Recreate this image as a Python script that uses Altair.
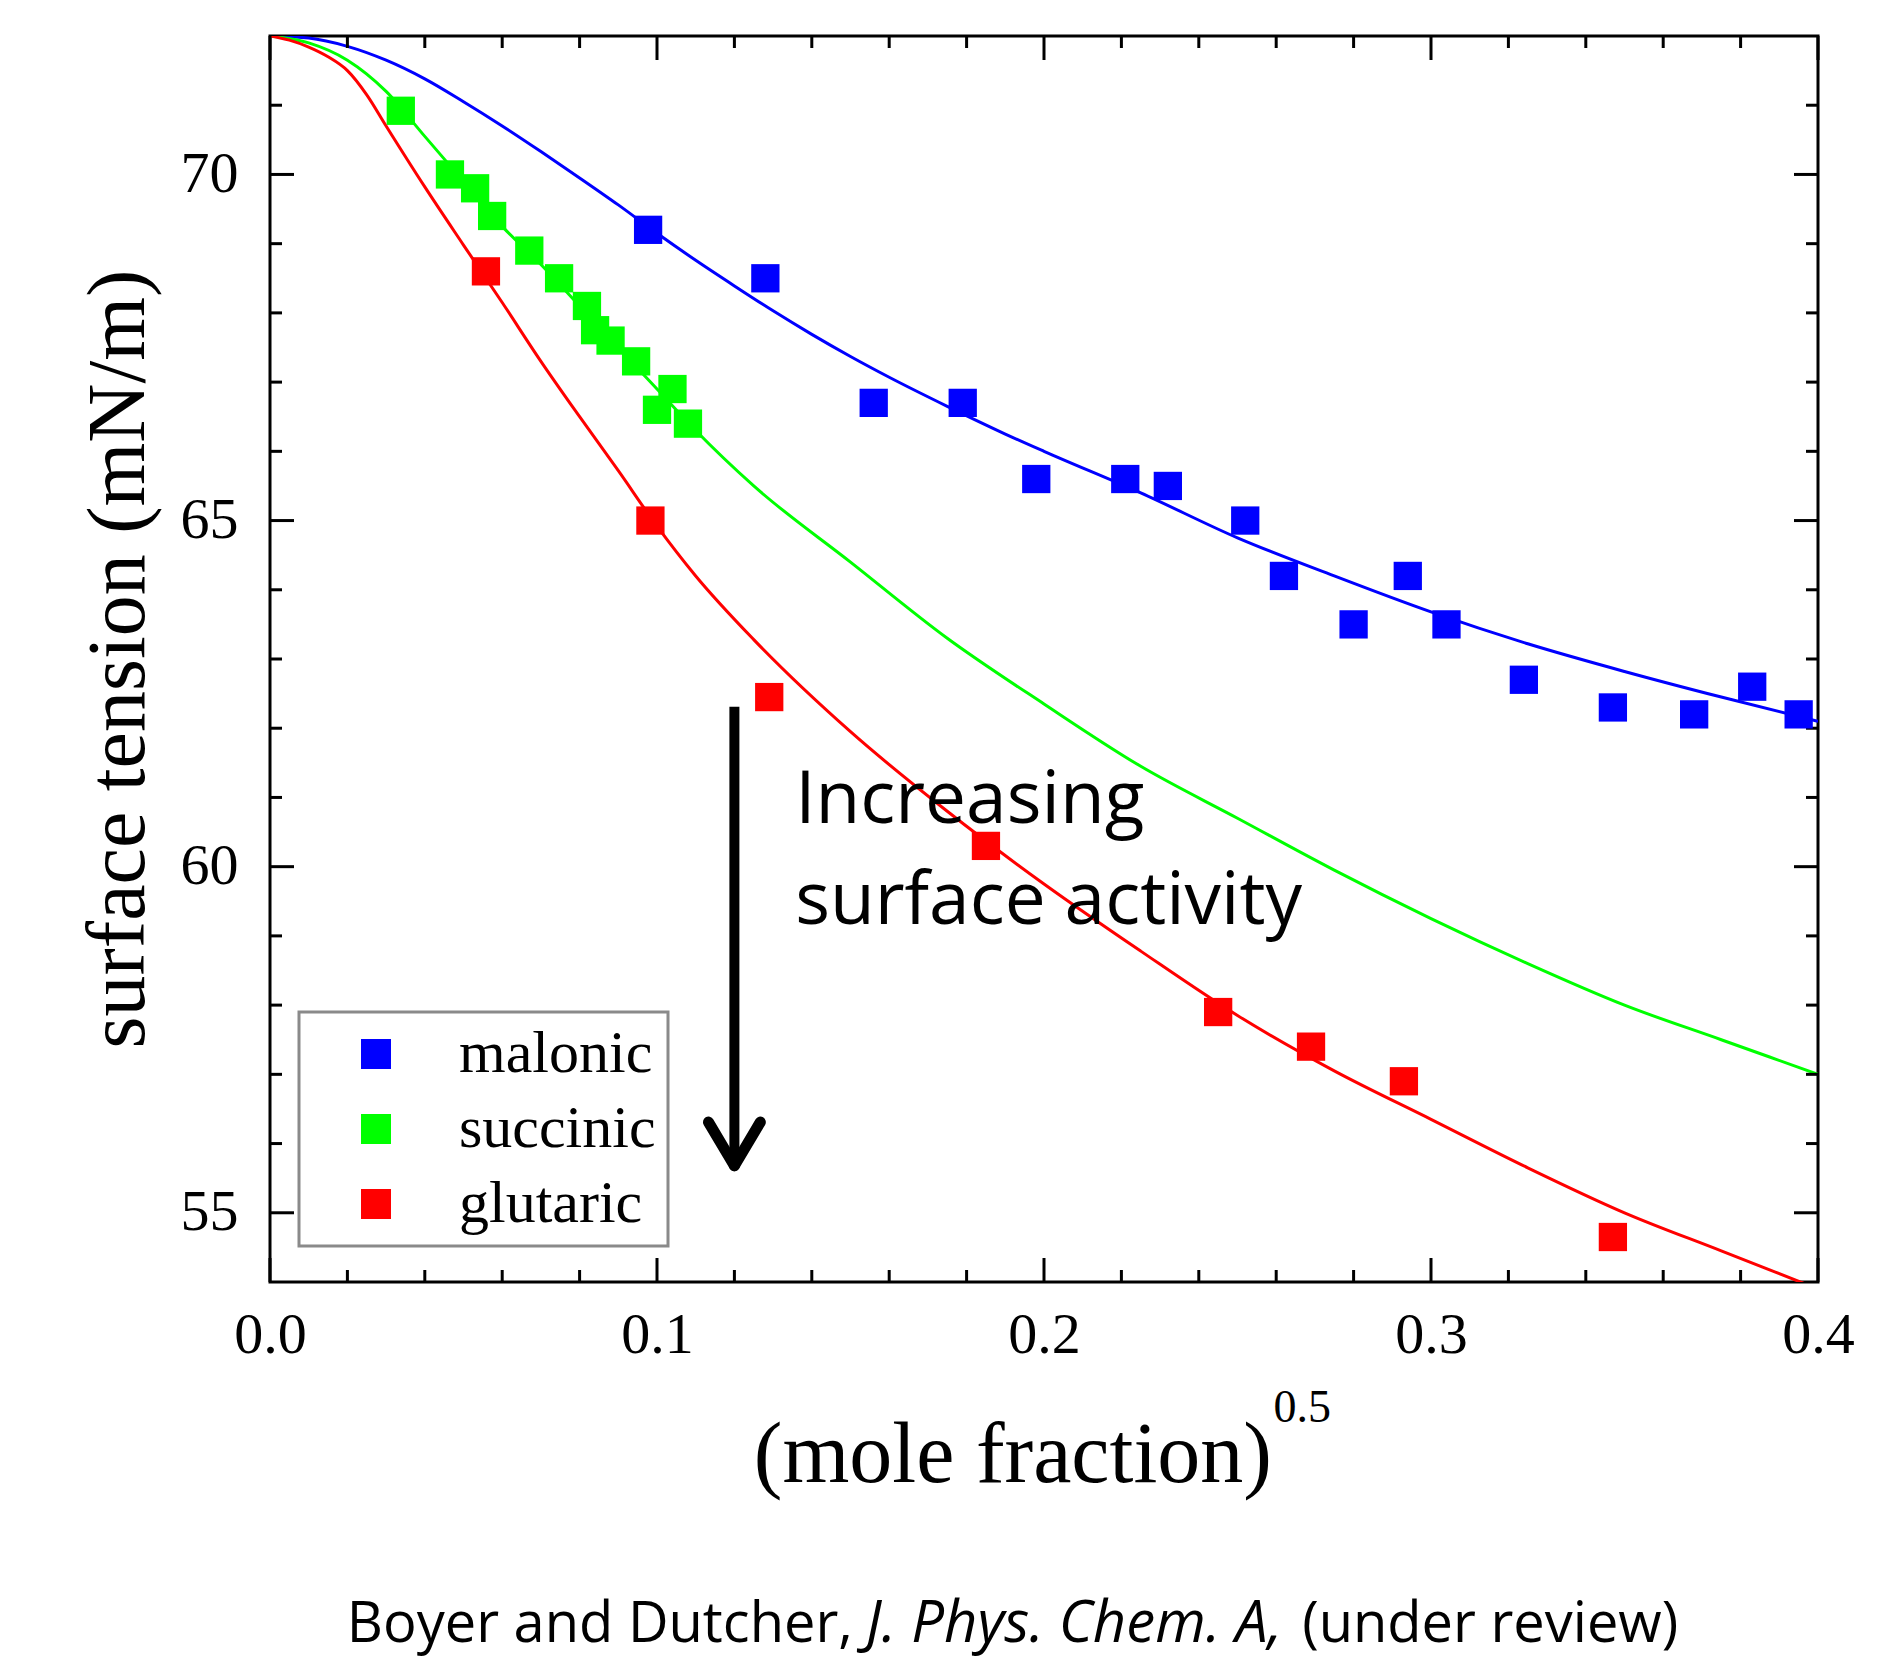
import altair as alt
import pandas as pd

# ---------------- data ----------------
acids = ["malonic", "succinic", "glutaric"]
acid_colors = ["#0000ff", "#00ff00", "#ff0000"]

mal_x = [0.0977, 0.128, 0.156, 0.179, 0.198, 0.221, 0.232, 0.252, 0.262, 0.280,
         0.294, 0.304, 0.324, 0.347, 0.368, 0.383, 0.395]
mal_y = [69.2, 68.5, 66.7, 66.7, 65.6, 65.6, 65.5, 65.0, 64.2, 63.5,
         64.2, 63.5, 62.7, 62.3, 62.2, 62.6, 62.2]

suc_x = [0.0338, 0.0465, 0.053, 0.0574, 0.067, 0.0747, 0.0819, 0.084, 0.088,
         0.0946, 0.100, 0.104, 0.108]
suc_y = [70.92, 70.0, 69.8, 69.4, 68.9, 68.5, 68.1, 67.75, 67.6,
         67.3, 66.6, 66.9, 66.4]

glu_x = [0.0558, 0.0983, 0.129, 0.185, 0.245, 0.269, 0.293, 0.347]
glu_y = [68.6, 65.0, 62.45, 60.3, 57.9, 57.4, 56.9, 54.65]

mal_fit_x = [0, 0.01, 0.02, 0.03, 0.04, 0.05, 0.06, 0.07, 0.08, 0.09, 0.10, 0.11,
             0.12, 0.13, 0.14, 0.15, 0.16, 0.175, 0.19, 0.2, 0.225, 0.25, 0.275,
             0.3, 0.325, 0.35, 0.375, 0.4]
mal_fit_y = [72.0, 71.97, 71.85, 71.65, 71.38, 71.05, 70.7, 70.33, 69.95, 69.56,
             69.15, 68.76, 68.39, 68.03, 67.69, 67.37, 67.07, 66.65, 66.25, 66.0,
             65.4, 64.75, 64.2, 63.68, 63.22, 62.82, 62.45, 62.1]

suc_fit_x = [0, 0.01, 0.02, 0.03, 0.04, 0.05, 0.06, 0.07, 0.08, 0.09, 0.10, 0.11,
             0.125, 0.15, 0.175, 0.2, 0.225, 0.25, 0.275, 0.3, 0.325, 0.35, 0.375, 0.4]
suc_fit_y = [72.0, 71.9, 71.65, 71.2, 70.55, 69.9, 69.25, 68.7, 68.1, 67.5, 66.9,
             66.3, 65.5, 64.4, 63.3, 62.35, 61.45, 60.7, 59.95, 59.25, 58.6, 58.0,
             57.5, 57.0]

glu_fit_x = [0, 0.005, 0.01, 0.015, 0.02, 0.025, 0.03, 0.04, 0.05, 0.06, 0.07, 0.08,
             0.09, 0.10, 0.11, 0.125, 0.15, 0.175, 0.2, 0.225, 0.25, 0.275, 0.3,
             0.325, 0.35, 0.375, 0.4]
glu_fit_y = [72.0, 71.94, 71.84, 71.7, 71.5, 71.15, 70.7, 69.82, 68.98, 68.15, 67.3,
             66.5, 65.72, 64.92, 64.2, 63.28, 61.95, 60.8, 59.75, 58.78, 57.85,
             57.05, 56.35, 55.65, 55.0, 54.45, 53.9]

x_tick_labels = [0.0, 0.1, 0.2, 0.3, 0.4]
x_minor_ticks = [0.02, 0.04, 0.06, 0.08, 0.12, 0.14, 0.16, 0.18, 0.22, 0.24,
                 0.26, 0.28, 0.32, 0.34, 0.36, 0.38]
y_tick_labels = [55, 60, 65, 70]
y_minor_ticks = [56, 57, 58, 59, 61, 62, 63, 64, 66, 67, 68, 69, 71]

annotation_lines = ["Increasing", "surface activity"]
caption_parts = ["Boyer and Dutcher,", "J. Phys. Chem. A,", "(under review)"]
y_title = "surface tension (mN/m)"
x_title = "(mole fraction)"
x_title_sup = "0.5"

# ---------------- tables ----------------
pts = pd.concat([
    pd.DataFrame({"x": mal_x, "y": mal_y, "acid": acids[0]}),
    pd.DataFrame({"x": suc_x, "y": suc_y, "acid": acids[1]}),
    pd.DataFrame({"x": glu_x, "y": glu_y, "acid": acids[2]}),
])
fit_tables = [
    pd.DataFrame({"x": mal_fit_x, "y": mal_fit_y}),
    pd.DataFrame({"x": suc_fit_x, "y": suc_fit_y}),
    pd.DataFrame({"x": glu_fit_x, "y": glu_fit_y}),
]

W, H = 1548, 1246
SERIF = "Liberation Serif"
SANS = "Open Sans"

xscale = alt.Scale(domain=[0.0, 0.4], nice=False, zero=False)
yscale = alt.Scale(domain=[54, 72], nice=False, zero=False)

xaxis = alt.Axis(values=x_tick_labels, format=".1f", title=None, grid=False,
                 ticks=False, tickSize=0, domain=False, labelFont=SERIF,
                 labelFontSize=58, labelColor="black", labelPadding=24,
                 labelFlush=False, labelOverlap=False, labelBound=False)
yaxis = alt.Axis(values=y_tick_labels, title=None, grid=False, ticks=False,
                 tickSize=0, domain=False, labelFont=SERIF, labelFontSize=58,
                 labelColor="black", labelPadding=32, labelOverlap=False)


def X(f):
    return alt.X(f, type="quantitative", scale=xscale, axis=xaxis)


def Y(f):
    return alt.Y(f, type="quantitative", scale=yscale, axis=yaxis)


line_layers = [
    alt.Chart(tbl).mark_line(strokeWidth=3, clip=True, interpolate="monotone",
                             color=col).encode(x=X("x"), y=Y("y"))
    for tbl, col in zip(fit_tables, acid_colors)
]

points = alt.Chart(pts).mark_square(size=800, opacity=1, filled=True).encode(
    x=X("x"), y=Y("y"),
    color=alt.Color("acid:N", scale=alt.Scale(domain=acids, range=acid_colors),
                    legend=alt.Legend(title=None, orient="none", legendX=29, legendY=976,
                                      symbolType="square", symbolSize=900,
                                      symbolStrokeWidth=0, symbolOffset=35,
                                      labelOffset=53, rowPadding=15, padding=12,
                                      labelFont=SERIF, labelFontSize=60,
                                      labelLimit=600,
                                      labelColor="black", strokeColor="#8a8a8a",
                                      fillColor="white")),
)

# inward ticks on all four sides
xmaj = pd.DataFrame({"v": x_tick_labels})
xmin = pd.DataFrame({"v": x_minor_ticks})
ymaj = pd.DataFrame({"v": y_tick_labels})
ymin = pd.DataFrame({"v": y_minor_ticks})
MAJ, MIN = 24, 12
tick = dict(color="black", strokeWidth=3)
tick_layers = [
    alt.Chart(xmaj).mark_rule(**tick).encode(x=X("v"), y=alt.value(H), y2=alt.value(H - MAJ)),
    alt.Chart(xmin).mark_rule(**tick).encode(x=X("v"), y=alt.value(H), y2=alt.value(H - MIN)),
    alt.Chart(xmaj).mark_rule(**tick).encode(x=X("v"), y=alt.value(0), y2=alt.value(MAJ)),
    alt.Chart(xmin).mark_rule(**tick).encode(x=X("v"), y=alt.value(0), y2=alt.value(MIN)),
    alt.Chart(ymaj).mark_rule(**tick).encode(y=Y("v"), x=alt.value(0), x2=alt.value(MAJ)),
    alt.Chart(ymin).mark_rule(**tick).encode(y=Y("v"), x=alt.value(0), x2=alt.value(MIN)),
    alt.Chart(ymaj).mark_rule(**tick).encode(y=Y("v"), x=alt.value(W), x2=alt.value(W - MAJ)),
    alt.Chart(ymin).mark_rule(**tick).encode(y=Y("v"), x=alt.value(W), x2=alt.value(W - MIN)),
]

# arrow annotation (data coordinates)
shaft = pd.DataFrame({"x": [0.12], "y": [62.31], "x2": [0.12], "y2": [55.78]})
head = pd.DataFrame({"x": [0.1133, 0.1267], "y": [56.31, 56.31],
                     "x2": [0.12, 0.12], "y2": [55.68, 55.68]})
arrow_shaft = alt.Chart(shaft).mark_rule(color="black", strokeWidth=10).encode(
    x=X("x"), y=Y("y"), x2="x2", y2="y2")
arrow_head = alt.Chart(head).mark_rule(color="black", strokeWidth=11, strokeCap="round").encode(
    x=X("x"), y=Y("y"), x2="x2", y2="y2")

ann = pd.DataFrame({"x": [0.1357, 0.1357], "y": [60.63, 59.17], "t": annotation_lines})
ann_text = alt.Chart(ann).mark_text(font=SANS, fontSize=73, align="left",
                                    baseline="alphabetic", color="black").encode(
    x=X("x"), y=Y("y"), text="t:N")

# axis titles as text
ytitle = alt.Chart(pd.DataFrame({"x": [-0.0325], "y": [63.0], "t": [y_title]})).mark_text(
    font=SERIF, fontSize=82, angle=270, align="center", baseline="alphabetic",
    color="black").encode(x=X("x"), y=Y("y"), text="t:N")
xtitle = alt.Chart(pd.DataFrame({"x": [0.2589], "y": [51.11], "t": [x_title]})).mark_text(
    font=SERIF, fontSize=86, align="right", baseline="alphabetic",
    color="black").encode(x=X("x"), y=Y("y"), text="t:N")
xsup = alt.Chart(pd.DataFrame({"x": [0.2593], "y": [51.98], "t": [x_title_sup]})).mark_text(
    font=SERIF, fontSize=46, align="left", baseline="alphabetic",
    color="black").encode(x=X("x"), y=Y("y"), text="t:N")

# caption
CAP_Y = 48.80
cap1 = alt.Chart(pd.DataFrame({"x": [0.1506], "y": [CAP_Y], "t": [caption_parts[0]]})).mark_text(
    font=SANS, fontSize=56, align="right", baseline="alphabetic", color="black").encode(
    x=X("x"), y=Y("y"), text="t:N")
cap2 = alt.Chart(pd.DataFrame({"x": [0.1540], "y": [CAP_Y], "t": [caption_parts[1]]})).mark_text(
    font=SANS, fontSize=58, fontStyle="italic", align="left", baseline="alphabetic",
    color="black").encode(x=X("x"), y=Y("y"), text="t:N")
cap3 = alt.Chart(pd.DataFrame({"x": [0.2667], "y": [CAP_Y], "t": [caption_parts[2]]})).mark_text(
    font=SANS, fontSize=56, align="left", baseline="alphabetic", color="black").encode(
    x=X("x"), y=Y("y"), text="t:N")

chart = alt.layer(
    *line_layers, *tick_layers, arrow_shaft, arrow_head, ann_text, points,
    ytitle, xtitle, xsup, cap1, cap2, cap3,
).properties(
    width=W, height=H,
    autosize=alt.AutoSizeParams(type="none"),
    padding={"left": 262, "top": 28, "right": 40, "bottom": 380},
).configure_view(
    stroke="black", strokeWidth=3
).configure_legend(
    strokeColor="#8a8a8a", strokeWidth=3, fillColor="white"
)

chart.save("out.html", embed_options={"renderer": "svg", "actions": False})
